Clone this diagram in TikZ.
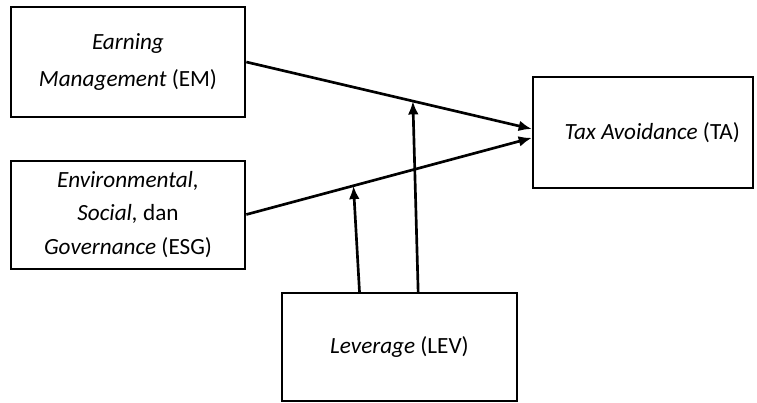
\documentclass[tikz,border=0pt]{standalone}
\usepackage{fontspec}
\setmainfont{Carlito}
\usetikzlibrary{arrows.meta}

\tikzset{
  varbox/.style={draw, line width=1.5pt, minimum width=176pt, minimum height=82pt,
    align=center, inner sep=0pt, font=\fontsize{17.4}{25}\selectfont},
  path/.style={line width=2pt, -{Latex[length=10pt,width=8pt]}},
}

\begin{document}
\begin{tikzpicture}[x=0.75pt,y=-0.75pt]
  \useasboundingbox (0,0) rectangle (757,403);
  % Variables
  \node[varbox] (em) at (128,62) {\textit{Earning}\\[3pt]\textit{Management} (EM)};
  \node[varbox, minimum height=81pt] (esg) at (128,214.5) {\textit{Environmental,}\\\textit{Social,} dan\\\textit{Governance} (ESG)};
  \node[varbox, minimum width=165pt, minimum height=83pt] (ta) at (643,132.5) {\hspace{14pt}\textit{Tax Avoidance} (TA)};
  \node[varbox, minimum height=81pt] (lev) at (399.5,347) {\textit{Leverage} (LEV)};
  %Direct effects
  \draw[path] (em.east) -- ([yshift=2.6pt]ta.west) coordinate[pos=0.583] (mod1);
  \draw[path] (esg.east) -- ([yshift=-4pt]ta.west) coordinate[pos=0.375] (mod2);
  %Moderation
  \draw[path] ([xshift=-30pt]lev.north) -- (mod2);
  \draw[path] ([xshift=14pt]lev.north) -- (mod1);
\end{tikzpicture}
\end{document}
